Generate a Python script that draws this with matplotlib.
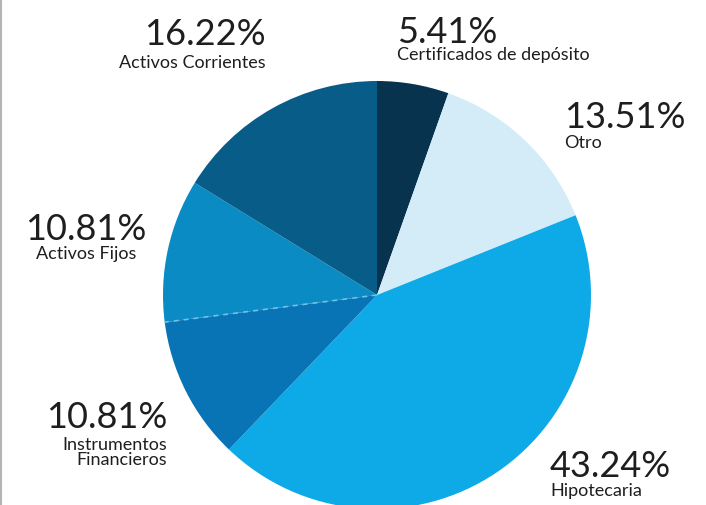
import numpy as np
import matplotlib
matplotlib.use("Agg")
import matplotlib.pyplot as plt
from matplotlib.lines import Line2D

plt.rcParams['font.family'] = ['Lato', 'DejaVu Sans']

categories = ["Certificados de depósito", "Otro", "Hipotecaria",
              "Instrumentos\nFinancieros", "Activos Fijos", "Activos Corrientes"]
values = [5.41, 13.51, 43.24, 10.81, 10.81, 16.22]
colors = ["#07334f", "#d3ecf8", "#0eaae8", "#0874b5", "#0b8bc3", "#075d87"]

W, H = 706, 505
fig = plt.figure(figsize=(W / 100, H / 100), dpi=100)
ax = fig.add_axes([0, 0, 1, 1])

cx, cy, r = 377, H - 295, 214
wedges, _ = ax.pie(values, colors=colors, startangle=90, counterclock=False,
                   center=(cx, cy), radius=r, frame=True,
                   wedgeprops=dict(linewidth=0))
ax.set_xlim(0, W)
ax.set_ylim(0, H)
ax.set_aspect('equal')
ax.axis('off')

# light dashed edge between the two fixed-asset style slices
cum = np.cumsum(values) / sum(values)
ang = np.deg2rad(90 - 360 * cum[3])
ax.plot([cx, cx + r * np.cos(ang)], [cy, cy + r * np.sin(ang)],
        color="#6cc2ea", lw=1.2, ls=(0, (3, 3)), zorder=5)

txt = "#1e1e1e"
big = 26
small = 13

def label(x, y_top, pct, name, ha, gap=35):
    ax.text(x, H - y_top, f"{pct:.2f}%", fontsize=big, color=txt,
            ha=ha, va='top')
    ax.text(x, H - y_top - gap, name, fontsize=small, color=txt,
            ha=ha, va='top', linespacing=0.95)

label(266, 18, values[5], categories[5], 'right', gap=37)
label(397, 16, values[0], categories[0], 'left', gap=31)
label(564, 101, values[1], categories[1], 'left', gap=34)
label(86, 213, values[4], categories[4], 'center', gap=33)
label(167, 401, values[3], categories[3], 'right', gap=36)
label(550, 450, values[2], categories[2], 'left', gap=33)

fig.add_artist(Line2D([0.0015, 0.0015], [0, 1], color="#b4b4b4", lw=1.5,
                      transform=fig.transFigure))

fig.savefig("out.png", dpi=100, facecolor="white")
